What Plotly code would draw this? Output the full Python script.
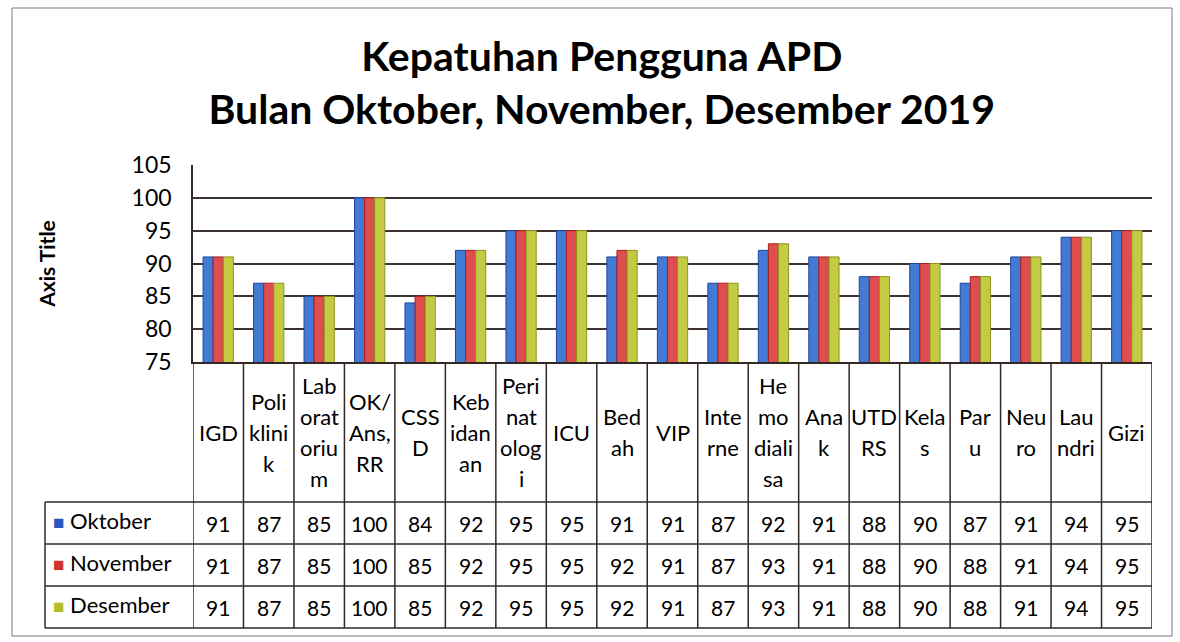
import plotly.graph_objects as go

categories = ['IGD', 'Poliklinik', 'Laboratorium', 'OK/Ans,RR', 'CSSD', 'Kebidanan',
              'Perinatologi', 'ICU', 'Bedah', 'VIP', 'Interne', 'Hemodialisa', 'Anak',
              'UTD RS', 'Kelas', 'Paru', 'Neuro', 'Laundri', 'Gizi']
category_labels = ['IGD', 'Poli<br>klini<br>k', 'Lab<br>orat<br>oriu<br>m', 'OK/<br>Ans,<br>RR',
                   'CSS<br>D', 'Keb<br>idan<br>an', 'Peri<br>nat<br>olog<br>i', 'ICU', 'Bed<br>ah',
                   'VIP', 'Inte<br>rne', 'He<br>mo<br>diali<br>sa', 'Ana<br>k', 'UTD<br>RS',
                   'Kela<br>s', 'Par<br>u', 'Neu<br>ro', 'Lau<br>ndri', 'Gizi']
series_names = ['Oktober', 'November', 'Desember']
oktober = [91, 87, 85, 100, 84, 92, 95, 95, 91, 91, 87, 92, 91, 88, 90, 87, 91, 94, 95]
november = [91, 87, 85, 100, 85, 92, 95, 95, 92, 91, 87, 93, 91, 88, 90, 88, 91, 94, 95]
desember = [91, 87, 85, 100, 85, 92, 95, 95, 92, 91, 87, 93, 91, 88, 90, 88, 91, 94, 95]
series_values = [oktober, november, desember]

colors = ['rgb(66,122,212)', 'rgb(222,78,78)', 'rgb(196,202,66)']
edge_colors = ['rgb(30,70,160)', 'rgb(170,30,30)', 'rgb(140,150,30)']
square_colors = ['rgb(40,90,190)', 'rgb(210,50,50)', 'rgb(180,190,40)']

FONT = 'Lato'

# layout geometry (pixels)
W, H = 1180, 642
L, R, T, B = 193, 28, 165, 280
plot_w = W - L - R
plot_h = H - T - B
bottom_px = H - B


def py(y):
    """pixel y -> paper y"""
    return (bottom_px - y) / plot_h


def px(x):
    """pixel x -> paper x"""
    return (x - L) / plot_w


row_lines = [502, 544, 586, 628]
row_centers = [523, 565, 607]
n = len(categories)

fig = go.Figure()
for name, vals, c, ec in zip(series_names, series_values, colors, edge_colors):
    fig.add_trace(go.Bar(
        x=list(range(n)), y=vals, name=name,
        marker=dict(color=c, line=dict(color=ec, width=1)),
    ))

shapes = []
line_style = dict(color='rgb(50,40,40)', width=1.5)
# vertical table lines
for i in range(n + 1):
    shapes.append(dict(type='line', xref='x', yref='paper', x0=i - 0.5, x1=i - 0.5,
                       y0=0, y1=py(row_lines[-1]), line=line_style))
# horizontal table lines
for yl in row_lines:
    shapes.append(dict(type='line', xref='paper', yref='paper', x0=px(45), x1=1,
                       y0=py(yl), y1=py(yl), line=line_style))
# legend column left edge
shapes.append(dict(type='line', xref='paper', yref='paper', x0=px(45), x1=px(45),
                   y0=py(row_lines[0]), y1=py(row_lines[-1]), line=line_style))
# outer chart border
shapes.append(dict(type='rect', xref='paper', yref='paper', x0=px(12), x1=px(1172),
                   y0=py(636), y1=py(8), line=dict(color='rgb(120,120,120)', width=1)))

annotations = []
# category labels in header row, one annotation per line
line_gap = 31
for i, lab in enumerate(category_labels):
    parts = lab.split('<br>')
    start = 432 - (len(parts) - 1) * line_gap / 2
    for j, p in enumerate(parts):
        annotations.append(dict(x=i, y=py(start + j * line_gap), xref='x', yref='paper',
                                xanchor='center', yanchor='middle',
                                text=p, showarrow=False, font=dict(size=22, color='black', family=FONT)))
# value cells
for r, vals in enumerate(series_values):
    for i, v in enumerate(vals):
        annotations.append(dict(x=i, y=py(row_centers[r]), xref='x', yref='paper',
                                xanchor='center', yanchor='middle',
                                text=str(v), showarrow=False, font=dict(size=21, color='black', family=FONT)))
    annotations.append(dict(x=px(51), y=py(row_centers[r] - 3), xref='paper', yref='paper',
                            xanchor='left', yanchor='middle',
                            text=f"<span style='color:{square_colors[r]};font-size:19px'>■</span> {series_names[r]}",
                            showarrow=False, font=dict(size=22, color='black', family=FONT)))

fig.update_layout(
    width=W, height=H,
    margin=dict(l=L, r=R, t=T, b=B),
    paper_bgcolor='white', plot_bgcolor='white',
    title=dict(text='<b>Kepatuhan Pengguna APD<br>Bulan Oktober, November, Desember 2019</b>',
               x=0.51, xanchor='center', y=1 - 71 / H, yanchor='middle', yref='container',
               font=dict(size=41, color='black', family=FONT)),
    barmode='group', bargap=0.4, bargroupgap=0,
    showlegend=False,
    xaxis=dict(range=[-0.5, n - 0.5], showticklabels=False, showgrid=False,
               showline=True, linecolor='rgb(50,40,40)', linewidth=1.5, fixedrange=True),
    yaxis=dict(range=[75, 105], dtick=5, showgrid=True, gridcolor='rgb(60,50,50)', gridwidth=1.5,
               showline=True, linecolor='rgb(50,40,40)', linewidth=1.5, zeroline=False,
               tickfont=dict(size=23, color='black', family=FONT), ticklabelstandoff=15,
               title=dict(text='<b>Axis Title</b>', standoff=70,
                          font=dict(size=21, color='black', family=FONT))),
    shapes=shapes,
    annotations=annotations,
)

fig.write_html("out.html", config={'displayModeBar': False},
               post_script="document.body.style.margin='0';")
